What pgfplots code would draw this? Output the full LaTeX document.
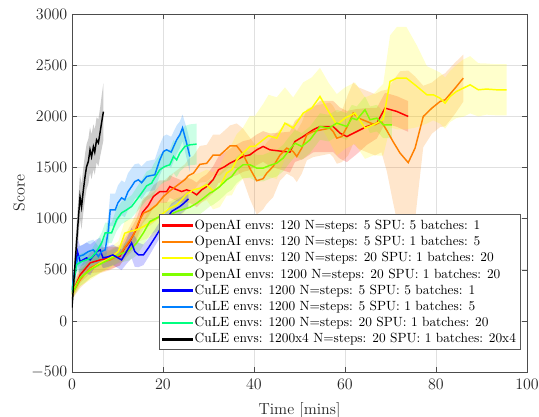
\documentclass[border=0pt]{standalone}
\usepackage{pgfplots}
\usepackage{pgfplotstable}
\pgfplotsset{compat=1.18}
\usepgfplotslibrary{fillbetween}
\definecolor{cred}{rgb}{1,0,0}
\definecolor{corange}{rgb}{1,0.5,0}
\definecolor{cyellow}{rgb}{1,1,0}
\definecolor{cchart}{rgb}{0.5,1,0}
\definecolor{cblue}{rgb}{0,0,1}
\definecolor{clblue}{rgb}{0,0.5,1}
\definecolor{cspring}{rgb}{0,1,0.5}
\definecolor{cblack}{rgb}{0,0,0}

\pgfplotstableread{
x y e
0 270 60
1.8 450 80
4 567 100
6.2 596 120
8.4 616 110
10.5 629 90
11.6 714 90
12.7 776 100
14.2 900 100
15.5 1060 110
16.8 1130 110
17.9 1216 110
19.3 1264 110
20.8 1264 110
21.5 1313 110
22.6 1290 110
24.1 1264 110
25.2 1281 120
26.3 1264 120
27.4 1232 120
28.5 1281 120
29.6 1313 120
31 1379 130
32.2 1477 130
33.6 1509 140
34.7 1542 140
36.2 1574 150
37.6 1607 150
39.1 1623 150
40.6 1672 150
42 1705 150
43.5 1672 160
45.7 1660 180
47.9 1650 200
49 1754 200
50.8 1802 220
53 1868 220
54.5 1900 250
57.4 1900 250
58.9 1835 250
60.4 1802 250
62.6 1851 220
64.8 1900 180
67 1933 150
68.8 2080 150
71.4 2047 150
73.9 1998 150
}\tred

\pgfplotstableread{
x y e
0 260 50
1.8 401 80
4 518 100
6.2 567 100
8.4 596 100
10.5 645 100
12 743 120
13.5 841 150
14.6 960 150
15.7 1053 150
17.1 1080 150
18.6 1134 150
20.1 1216 150
21.5 1270 150
23 1320 150
24.8 1380 150
25.6 1420 160
26.7 1444 170
28.1 1530 180
29.6 1540 180
31 1620 200
32.5 1620 200
34 1680 200
34.7 1710 200
36.2 1710 220
37.6 1630 250
39.1 1490 300
40.6 1370 330
42 1390 300
42.8 1444 300
44.2 1509 300
45.7 1620 250
47.2 1689 250
48.6 1656 250
49.4 1607 250
50.5 1689 250
51.6 1819 250
53 1851 250
54.9 1868 250
56.7 1884 250
57.4 1851 250
58.2 1786 250
59.3 1802 250
60.7 1917 300
61.8 2031 300
63 1982 300
64.8 1949 300
66.6 1917 300
68 1949 300
69.2 1860 400
70.6 1750 600
72.1 1640 800
73.9 1547 900
75.4 1689 700
77.2 1998 300
79.1 2080 250
80.9 2145 250
82 2161 260
84.2 2275 250
86 2373 230
}\torange

\pgfplotstableread{
x y e
0 280 50
1.8 420 80
4 499 100
6.2 567 100
8.4 616 100
10.2 678 100
11.6 857 120
12.7 874 120
14.2 890 120
15.7 922 130
17.5 970 150
18.2 988 150
20.1 1053 150
21.5 1102 150
23 1134 150
24.1 1183 150
25.2 1240 150
26.7 1281 150
28.1 1297 150
29.6 1330 150
31 1270 180
32.5 1313 200
34 1444 220
35.1 1477 250
36.2 1574 250
37.6 1640 250
39.1 1705 300
40.2 1705 300
42 1770 350
43.2 1810 400
45 1786 400
46.8 1933 350
48.6 1884 300
50.8 2031 300
52.7 2080 300
54.5 2194 280
56.4 2047 280
58.2 1917 300
60 1982 300
62.2 2031 300
64.4 1884 300
66.2 1917 300
68.4 1966 350
69.9 2341 450
71.4 2373 500
73.5 2373 500
75.8 2292 400
78 2210 280
79.4 2210 250
80.9 2177 250
82 2129 250
83.1 2194 250
84.5 2243 260
86 2275 280
87.5 2308 280
89.3 2259 260
91.1 2266 250
93.3 2259 250
95.5 2259 250
}\tyellow

\pgfplotstableread{
x y e
0 260 50
1.8 420 80
4 499 80
6.2 555 80
8.4 606 80
10.5 650 80
12.7 691 100
14.2 760 120
15.7 860 120
17.1 971 130
19.3 1020 130
21.5 1036 130
23 1069 130
25.9 1110 130
27.4 1150 130
28.9 1199 130
30.3 1249 130
31 1264 130
32.5 1313 130
34 1379 130
35.1 1411 130
36.2 1477 130
37.6 1526 130
39.1 1526 130
40.6 1493 130
42 1493 130
43.5 1520 130
45 1542 130
46.4 1591 130
47.5 1656 130
49 1737 130
50.5 1705 130
52.3 1770 130
54.5 1900 130
56.4 1884 130
58.2 1933 130
60.4 1900 130
61.5 1982 130
62.6 1966 130
64.4 2064 130
65.5 1966 130
67 1982 130
68.4 1917 130
70.3 1917 130
}\tchart

\pgfplotstableread{
x y e
0 300 30
0.6 450 100
1.2 678 130
1.8 580 150
3.2 616 150
4 596 150
5.4 675 120
6.2 694 120
6.8 616 100
7.9 626 100
9 645 100
10.1 616 100
10.9 596 100
12 678 120
13.1 763 150
13.8 678 150
14.6 645 120
15.7 645 100
16.8 714 90
18.2 811 80
19.3 890 80
20.8 1000 80
21.9 1070 80
23.7 1118 80
24.6 1150 80
25.6 1193 80
}\tblue

\pgfplotstableread{
x y e
0 300 30
0.6 500 80
1.4 629 100
2.5 645 100
3.6 678 100
4.7 694 100
5.8 629 100
6.5 678 100
7.3 694 120
8 890 150
8.4 1085 160
9.5 1085 160
10.1 1154 170
10.9 1203 170
11.6 1183 170
12.3 1262 180
13.1 1313 180
13.8 1362 170
14.6 1379 160
15.3 1350 160
16.4 1411 150
17.3 1420 150
18.2 1428 150
19.3 1574 150
20.1 1656 150
20.8 1672 150
21.8 1650 150
23 1770 140
23.7 1819 130
24.3 1887 130
24.8 1802 140
25.2 1737 150
25.9 1607 150
}\tlblue

\pgfplotstableread{
x y e
0 280 30
1 548 80
2.1 580 80
3.2 596 80
4.3 620 80
5.4 678 100
6.5 760 100
7.3 860 100
8 860 100
8.7 860 100
9.8 988 110
10.9 1056 110
12 1085 110
13.1 1118 110
14.2 1183 120
15.3 1249 130
16.4 1320 140
17.5 1346 140
17.9 1379 150
18.6 1428 150
19.3 1477 150
20.4 1509 150
21.5 1526 150
22.3 1607 160
23 1574 170
23.7 1640 180
24.8 1705 200
25.9 1721 200
27.4 1728 200
}\tgreen

\pgfplotstableread{
x y e
0 130 30
0.5 450 150
1.0 763 180
1.4 1000 200
1.76 1213 220
2.1 1115 220
2.5 1281 220
2.9 1420 220
3.2 1506 220
3.6 1560 220
3.96 1672 220
4.3 1604 220
4.7 1702 220
5.0 1650 220
5.4 1770 220
5.8 1740 230
6.2 1850 240
6.5 1936 260
6.9 2045 280
}\tblack

\newcommand{\band}[3]{%
\addplot[draw=none, forget plot, name path=#3u] table[x=x,y expr=\thisrow{y}+\thisrow{e}] {#1};
\addplot[draw=none, forget plot, name path=#3l] table[x=x,y expr=\thisrow{y}-\thisrow{e}] {#1};
\addplot[fill=#2, fill opacity=0.2, draw=none, forget plot] fill between[of=#3u and #3l];
}
\newcommand{\legimg}[1]{\addlegendimage{legend image code/.code={%
  \fill[#1] (0cm,-0.55pt) rectangle (0.8cm,0.55pt);}}}

\begin{document}
\begin{tikzpicture}
\begin{axis}[
  name=ax,
  scale only axis,
  width=341.25pt, height=268.5pt,
  xmin=0, xmax=100, ymin=-500, ymax=3000,
  xtick={0,20,40,60,80,100},
  ytick={-500,0,500,1000,1500,2000,2500,3000},
  /pgf/number format/1000 sep={},
  axis line style={draw=black!70},
  tick style={draw=black!70},
  tick align=inside,
  major tick length=4pt,
  grid=major,
  grid style={draw=black!12, line width=0.5pt},
  ticklabel style={font=\large, text=black!85},
  xticklabel style={yshift=-2pt},
  xlabel={Time [mins]},
  ylabel={Score},
  label style={font=\large, text=black!85},
  xlabel style={yshift=-3pt},
  ylabel style={yshift=-2pt},
  legend cell align=left,
  legend style={at={(0.9868,0.0615)}, anchor=south east,
    draw=black!65, line width=0.6pt, fill=white, font=\normalsize,
    inner sep=2pt, row sep=0.6pt,
    nodes={inner sep=1.5pt}},
]
\legimg{cred}
\addlegendentry{OpenAI envs: 120 N=steps: 5 SPU: 5 batches: 1}
\legimg{corange}
\addlegendentry{OpenAI envs: 120 N=steps: 5 SPU: 1 batches: 5}
\legimg{cyellow}
\addlegendentry{OpenAI envs: 120 N=steps: 20 SPU: 1 batches: 20}
\legimg{cchart}
\addlegendentry{OpenAI envs: 1200 N=steps: 20 SPU: 1 batches: 20}
\legimg{cblue}
\addlegendentry{CuLE envs: 1200 N=steps: 5 SPU: 5 batches: 1}
\legimg{clblue}
\addlegendentry{CuLE envs: 1200 N=steps: 5 SPU: 1 batches: 5}
\legimg{cspring}
\addlegendentry{CuLE envs: 1200 N=steps: 20 SPU: 1 batches: 20}
\legimg{cblack}
\addlegendentry{CuLE envs: 1200x4 N=steps: 20 SPU: 1 batches: 20x4}

\band{\tred}{cred}{r}
\band{\torange}{corange}{o}
\band{\tyellow}{cyellow}{y}
\band{\tchart}{cchart}{c}
\band{\tblue}{cblue}{b}
\band{\tlblue}{clblue}{lb}
\band{\tgreen}{cspring}{g}
\band{\tblack}{cblack}{k}

\addplot[draw=cred, line width=1.1pt, forget plot] table[x=x,y=y] {\tred};
\addplot[draw=corange, line width=1.1pt, forget plot] table[x=x,y=y] {\torange};
\addplot[draw=cyellow, line width=1.1pt, forget plot] table[x=x,y=y] {\tyellow};
\addplot[draw=cchart, line width=1.1pt, forget plot] table[x=x,y=y] {\tchart};
\addplot[draw=cblue, line width=1.1pt, forget plot] table[x=x,y=y] {\tblue};
\addplot[draw=clblue, line width=1.1pt, forget plot] table[x=x,y=y] {\tlblue};
\addplot[draw=cspring, line width=1.1pt, forget plot] table[x=x,y=y] {\tgreen};
\addplot[draw=cblack, line width=1.1pt, forget plot] table[x=x,y=y] {\tblack};
\end{axis}
\pgfresetboundingbox
\path ([shift={(-54pt,-33.75pt)}]ax.south west) rectangle ([shift={(9pt,10.5pt)}]ax.north east);
\end{tikzpicture}
\end{document}
